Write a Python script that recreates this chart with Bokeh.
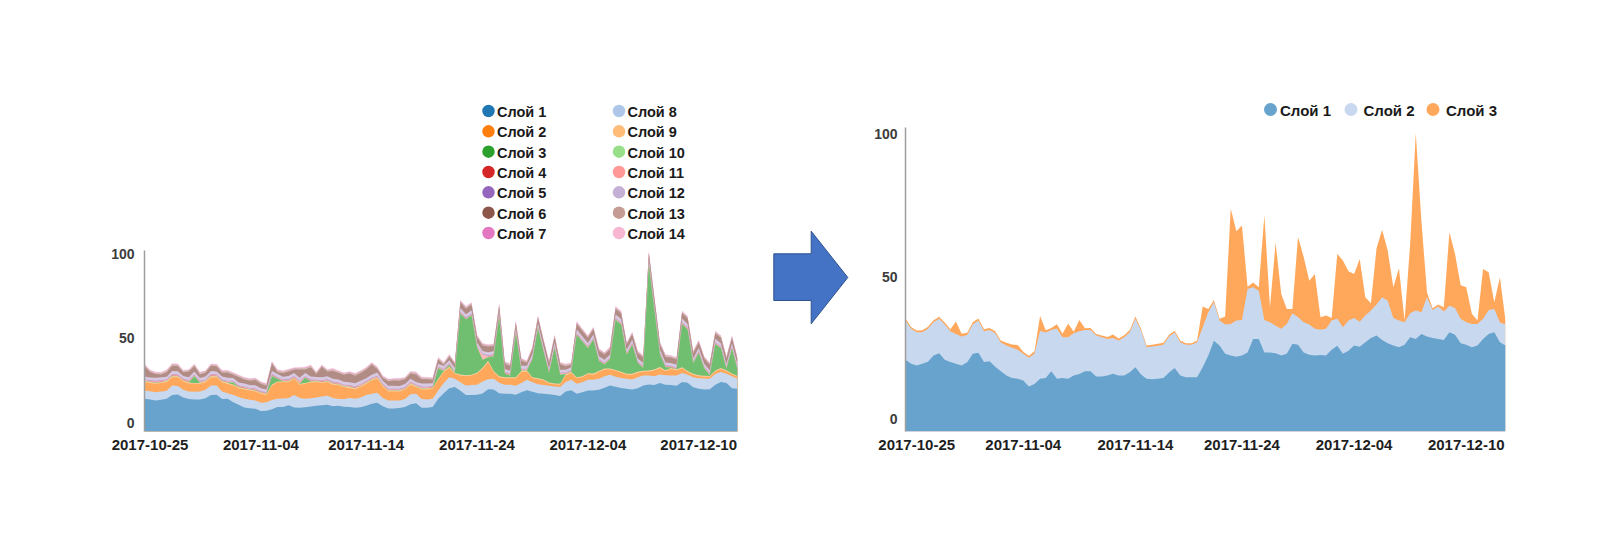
import numpy as np
from bokeh.plotting import figure
from bokeh.layouts import row
from bokeh.models import ColumnDataSource, FixedTicker, Range1d
from bokeh.core.properties import value
from bokeh.palettes import Category20_20
from bokeh.embed import file_html
from bokeh.resources import INLINE

# ---------------- data ----------------
TICK_LABELS = ["2017-10-25", "2017-11-04", "2017-11-14", "2017-11-24", "2017-12-04", "2017-12-10"]
LEFT_TICKS = [1, 21, 40, 60, 80, 100]
RIGHT_TICKS = [2, 21, 41, 60, 80, 100]
Y_TICKS = [0, 50, 100]

LEFT_NAMES = ["Слой 1", "Слой 2", "Слой 3", "Слой 4", "Слой 5", "Слой 6", "Слой 7",
              "Слой 8", "Слой 9", "Слой 10", "Слой 11", "Слой 12", "Слой 13", "Слой 14"]
RIGHT_NAMES = ["Слой 1", "Слой 2", "Слой 3"]

# left chart: 14 layers (bottom to top)
left_layer1 = [14.2, 13.8, 13.2, 13.6, 14.2, 16.5, 16.7, 15.0, 14.0, 13.8, 13.8, 14.5,
               16.5, 16.6, 14.0, 14.2, 12.2, 10.6, 9.0, 8.6, 8.3, 6.9, 7.1, 8.0,
               9.3, 9.3, 10.4, 9.0, 8.9, 9.1, 9.6, 10.0, 10.4, 10.6, 9.8, 10.0,
               9.5, 9.3, 8.9, 9.2, 10.0, 11.2, 11.8, 9.8, 8.5, 8.5, 8.7, 9.3,
               11.0, 11.5, 8.9, 8.9, 9.3, 14.2, 17.5, 20.5, 21.2, 19.0, 16.5, 16.5,
               16.6, 17.3, 19.8, 19.7, 17.5, 17.1, 17.1, 16.6, 18.0, 19.3, 18.3, 17.5,
               17.1, 16.8, 16.5, 15.8, 18.5, 19.3, 17.1, 18.1, 19.1, 19.1, 19.5, 20.7,
               22.1, 21.3, 20.6, 20.1, 19.7, 20.5, 22.0, 22.7, 22.4, 23.5, 22.5, 22.3,
               21.9, 24.2, 23.7, 21.0, 20.1, 19.7, 19.9, 22.5, 24.2, 23.5, 20.5, 20.1]
left_layer2 = [4.9, 4.8, 4.9, 4.9, 4.7, 5.5, 5.1, 4.5, 4.5, 4.5, 4.7, 5.0,
               5.5, 5.5, 4.5, 3.3, 4.3, 4.6, 5.2, 5.0, 4.9, 4.9, 5.1, 5.5,
               4.9, 5.0, 4.2, 7.5, 5.7, 5.1, 4.9, 5.0, 5.2, 5.4, 4.8, 4.0,
               4.5, 5.3, 5.3, 5.8, 6.5, 5.9, 5.9, 4.8, 4.7, 4.7, 4.5, 4.7,
               5.8, 5.6, 5.1, 4.9, 4.9, 4.9, 6.0, 6.5, 4.8, 5.0, 5.6, 5.8,
               5.9, 7.2, 6.0, 6.3, 6.2, 5.4, 5.4, 5.3, 5.5, 6.2, 5.7, 5.3,
               5.2, 5.1, 5.0, 5.3, 5.7, 6.1, 6.0, 5.9, 6.4, 6.3, 6.5, 6.8,
               6.3, 5.9, 5.9, 5.9, 5.9, 6.5, 6.0, 5.3, 5.1, 5.1, 5.7, 5.7,
               6.1, 5.3, 4.8, 6.0, 6.3, 6.5, 6.1, 6.3, 5.8, 5.5, 7.0, 5.9]
left_layer3 = [4.9, 4.9, 5.0, 5.0, 5.1, 5.0, 5.2, 5.0, 4.8, 4.8, 4.6, 4.5,
               5.0, 4.9, 5.5, 5.5, 5.6, 5.3, 5.5, 5.5, 5.3, 5.3, 4.3, 8.5,
               9.8, 9.7, 9.4, 9.5, 7.9, 8.9, 9.3, 9.0, 7.9, 8.0, 7.9, 8.2,
               7.0, 5.9, 5.7, 6.1, 6.5, 7.9, 8.3, 6.9, 5.3, 5.3, 5.3, 5.5,
               5.7, 3.9, 5.7, 5.9, 5.9, 6.4, 6.5, 5.5, 3.0, 4.0, 5.4, 5.7,
               6.5, 7.4, 10.1, 4.0, 3.3, 3.9, 3.9, 4.5, 6.5, 4.9, 2.4, 3.0,
               2.7, 1.4, 1.3, 1.4, 3.8, 4.0, 3.3, 3.0, 3.3, 3.1, 4.0, 4.0,
               3.1, 3.6, 3.1, 2.5, 2.9, 2.6, 2.2, 2.4, 3.4, 3.7, 2.3, 3.9,
               2.9, 2.8, 1.5, 1.5, 1.2, 1.0, 1.2, 1.5, 1.9, 1.5, 1.2, 1.2]
left_layer4 = [0.5, 0.6, 0.5, 0.5, 0.6, 0.6, 0.5, 0.5, 0.6, 0.5, 0.5, 0.6,
               0.6, 0.5, 0.5, 0.6, 0.5, 0.5, 0.6, 0.5, 0.5, 0.6, 0.5, 0.6,
               0.5, 0.5, 0.6, 0.5, 0.6, 0.5, 0.5, 0.6, 0.5, 0.5, 0.6, 0.5,
               0.5, 0.6, 0.5, 0.5, 0.6, 0.5, 0.6, 0.5, 0.5, 0.6, 0.5, 0.5,
               0.6, 0.5, 0.5, 0.6, 0.5, 0.6, 0.7, 0.6, 0.5, 0.6, 0.6, 0.5,
               0.6, 0.7, 0.8, 0.6, 0.5, 0.6, 0.5, 0.6, 0.7, 0.6, 0.5, 0.5,
               0.6, 0.5, 0.5, 0.6, 0.7, 0.6, 0.5, 0.6, 0.5, 0.6, 0.6, 0.7,
               0.6, 0.5, 0.6, 0.5, 0.5, 0.6, 0.6, 0.5, 0.6, 0.7, 0.6, 0.5,
               0.6, 0.5, 0.6, 0.5, 0.5, 0.6, 0.5, 0.6, 0.5, 0.6, 0.5, 0.5]
left_layer5 = [0, 0, 0, 0, 0, 0, 0, 0, 0, 4.0, 0, 0,
               0, 0, 0, 0, 1.2, 0, 0, 0, 0, 0, 0, 5.0,
               1.5, 0, 0, 0, 0, 3.0, 0, 0, 0, 0, 0, 0,
               0, 0, 0, 0, 0, 0, 0, 0, 0, 0, 0, 0,
               0, 0, 0, 0, 0, 6.0, 0, 1.0, 0, 36.0, 33.0, 35.0,
               15.0, 4.5, 2.0, 8.7, 35.0, 2.0, 1.0, 25.6, 0, 0, 10.6, 29.4,
               16.4, 5.6, 20.8, 5.4, 0, 0, 25.1, 20.6, 14.8, 20.1, 5.8, 2.3,
               5.5, 29.6, 27.9, 11.2, 17.1, 5.2, 1.6, 62.2, 35.1, 7.4, 1.7, 0.3,
               0, 25.6, 24.5, 6.3, 13.1, 4.4, 0.5, 15.6, 11.7, 0.8, 14.6, 3.8]
left_layer6 = [0.2, 0.2, 0.3, 0.2, 0.2, 0.3, 0.2, 0.2, 0.3, 0.2, 0.2, 0.2,
               0.3, 0.2, 0.2, 0.2, 0.3, 0.2, 0.2, 0.2, 0.3, 0.2, 0.2, 0.3,
               0.2, 0.2, 0.3, 0.2, 0.2, 0.2, 0.3, 0.2, 0.2, 0.3, 0.2, 0.2,
               0.2, 0.3, 0.2, 0.2, 0.2, 0.3, 0.2, 0.2, 0.3, 0.2, 0.2, 0.2,
               0.3, 0.2, 0.2, 0.2, 0.3, 0.2, 0.2, 0.3, 0.2, 0.3, 0.2, 0.3,
               0.2, 0.3, 0.2, 0.3, 0.2, 0.2, 0.3, 0.2, 0.2, 0.2, 0.3, 0.2,
               0.2, 0.2, 0.3, 0.2, 0.2, 0.3, 0.2, 0.2, 0.3, 0.2, 0.2, 0.3,
               0.2, 0.2, 0.3, 0.2, 0.2, 0.2, 0.3, 0.2, 0.2, 0.3, 0.2, 0.2,
               0.2, 0.3, 0.2, 0.2, 0.3, 0.2, 0.2, 0.3, 0.2, 0.2, 0.3, 0.2]
left_layer7 = [0.2, 0.1, 0.2, 0.2, 0.1, 0.2, 0.1, 0.2, 0.2, 0.1, 0.2, 0.1,
               0.2, 0.2, 0.1, 0.2, 0.1, 0.2, 0.2, 0.1, 0.2, 0.1, 0.2, 0.2,
               0.1, 0.2, 0.1, 0.2, 0.2, 0.1, 0.2, 0.1, 0.2, 0.2, 0.1, 0.2,
               0.1, 0.2, 0.2, 0.1, 0.2, 0.1, 0.2, 0.2, 0.1, 0.2, 0.1, 0.2,
               0.2, 0.1, 0.2, 0.1, 0.2, 0.2, 0.1, 0.2, 0.1, 0.2, 0.2, 0.1,
               0.2, 0.1, 0.2, 0.2, 0.1, 0.2, 0.1, 0.2, 0.2, 0.1, 0.2, 0.1,
               0.2, 0.2, 0.1, 0.2, 0.1, 0.2, 0.2, 0.1, 0.2, 0.1, 0.2, 0.2,
               0.1, 0.2, 0.1, 0.2, 0.2, 0.1, 0.2, 0.1, 0.2, 0.2, 0.1, 0.2,
               0.1, 0.2, 0.2, 0.1, 0.2, 0.1, 0.2, 0.2, 0.1, 0.2, 0.1, 0.2]
left_layer8 = [0.4, 0.4, 0.3, 0.4, 0.4, 0.5, 0.4, 0.3, 0.4, 0.4, 0.4, 0.3,
               0.4, 0.5, 0.4, 0.4, 0.3, 0.4, 0.4, 0.4, 0.5, 0.4, 0.3, 0.4,
               0.4, 0.4, 0.5, 0.4, 1.2, 0.4, 0.4, 0.3, 0.4, 0.4, 0.5, 0.4,
               0.4, 0.4, 0.3, 0.8, 0.4, 0.4, 0.5, 0.4, 0.4, 0.3, 0.4, 0.4,
               0.4, 0.5, 0.4, 0.4, 0.3, 0.4, 0.4, 0.4, 0.5, 0.4, 0.4, 0.3,
               0.4, 3.0, 0.5, 0.4, 0.4, 0.3, 0.4, 0.4, 0.5, 0.4, 0.4, 0.3,
               0.4, 0.4, 0.5, 0.4, 0.4, 0.3, 0.4, 0.4, 0.5, 0.4, 0.4, 0.3,
               0.4, 0.4, 0.5, 0.4, 0.4, 0.3, 0.4, 0.4, 0.5, 0.4, 0.4, 0.3,
               0.4, 0.4, 0.5, 0.4, 0.4, 0.3, 0.4, 0.4, 0.5, 0.4, 0.4, 0.3]
left_layer9 = [0.3, 0.3, 0.4, 0.3, 0.3, 0.3, 0.4, 0.3, 0.3, 0.3, 0.4, 0.3,
               0.3, 0.3, 0.4, 0.3, 0.3, 0.3, 0.4, 0.3, 0.3, 0.3, 0.4, 0.3,
               0.3, 0.3, 0.4, 0.3, 0.3, 0.3, 0.4, 0.3, 0.3, 0.3, 0.4, 0.3,
               0.3, 0.3, 0.4, 0.3, 0.3, 0.3, 0.4, 0.3, 0.3, 0.3, 0.4, 0.3,
               0.3, 0.3, 0.4, 0.3, 0.3, 0.3, 0.4, 0.3, 0.3, 0.3, 0.4, 0.3,
               0.3, 0.3, 0.4, 0.3, 0.3, 0.3, 0.4, 0.3, 0.3, 0.3, 0.4, 0.3,
               0.3, 0.3, 0.4, 0.3, 0.3, 0.3, 0.4, 0.3, 0.3, 0.3, 0.4, 0.3,
               0.3, 0.3, 0.4, 0.3, 0.3, 0.3, 0.4, 0.3, 0.3, 0.3, 0.4, 0.3,
               0.3, 0.3, 0.4, 0.3, 0.3, 0.3, 0.4, 0.3, 0.3, 0.3, 0.4, 0.3]
left_layer10 = [1.8, 1.7, 1.9, 1.8, 1.6, 1.8, 1.9, 1.7, 1.8, 1.8, 1.7, 1.9,
                1.8, 1.6, 1.8, 1.9, 1.7, 1.8, 1.8, 1.7, 1.9, 1.8, 1.6, 1.8,
                1.9, 1.7, 1.8, 1.8, 1.7, 1.9, 1.8, 1.6, 1.8, 1.9, 1.7, 1.8,
                1.8, 1.7, 1.9, 1.8, 1.6, 1.8, 1.9, 1.7, 1.8, 1.8, 1.7, 1.9,
                1.8, 1.6, 1.8, 1.9, 1.7, 1.8, 1.8, 1.7, 1.9, 2.2, 2.0, 2.1,
                1.9, 1.7, 1.8, 1.9, 2.1, 1.8, 1.7, 2.1, 1.8, 1.7, 1.9, 2.2,
                2.0, 1.8, 2.1, 1.8, 1.7, 1.8, 2.1, 2.0, 1.9, 2.1, 1.8, 1.7,
                1.8, 2.2, 2.1, 1.9, 2.0, 1.8, 1.7, 2.4, 2.2, 1.9, 1.8, 1.7,
                1.8, 2.1, 2.1, 1.8, 2.0, 1.8, 1.7, 2.0, 1.9, 1.8, 2.0, 1.8]
left_layer11 = [6.1, 3.2, 2.1, 1.7, 2.7, 3.1, 3.1, 2.2, 3.4, 3.0, 2.1, 2.2,
                3.1, 3.1, 2.2, 3.2, 1.9, 3.2, 2.3, 2.5, 3.1, 2.6, 2.2, 4.5,
                1.2, 2.2, 2.7, 2.1, 4.8, 2.1, 5.4, 1.7, 6.2, 2.7, 4.7, 4.0,
                4.1, 5.1, 4.5, 4.7, 5.2, 6.1, 2.1, 1.7, 2.7, 3.1, 3.1, 2.7,
                3.1, 4.4, 2.5, 2.5, 2.1, 2.5, 0.7, 2.2, 2.2, 3.4, 3.2, 3.3,
                3.1, 3.2, 3.3, 3.0, 3.4, 3.3, 2.8, 3.2, 3.1, 1.8, 3.0, 3.3,
                3.2, 3.1, 3.2, 3.2, 2.1, 1.5, 3.3, 3.1, 3.0, 3.2, 3.2, 3.1,
                3.2, 3.4, 3.3, 3.1, 3.2, 3.0, 3.2, 3.6, 3.4, 3.1, 3.2, 3.2,
                3.1, 3.3, 3.2, 3.0, 3.2, 3.1, 3.2, 3.3, 3.2, 3.2, 3.2, 3.1]
left_layer12 = [0.8, 0.8, 0.7, 0.8, 0.9, 0.8, 0.8, 0.7, 0.8, 0.9, 0.8, 0.8,
                0.7, 0.8, 0.9, 0.8, 0.8, 0.7, 0.8, 0.9, 0.8, 0.8, 0.7, 0.8,
                0.9, 0.8, 0.8, 0.7, 0.8, 0.9, 0.8, 0.8, 0.7, 0.8, 0.9, 0.8,
                0.8, 0.7, 0.8, 0.9, 0.8, 0.8, 0.7, 0.8, 0.9, 0.8, 0.8, 0.7,
                0.8, 0.9, 0.8, 0.8, 0.7, 0.8, 0.9, 0.8, 0.8, 0.7, 0.8, 0.9,
                0.8, 0.8, 0.7, 0.8, 0.9, 0.8, 0.8, 0.7, 0.8, 0.9, 0.8, 0.8,
                0.7, 0.8, 0.9, 0.8, 0.8, 0.7, 0.8, 0.9, 0.8, 0.8, 0.7, 0.8,
                0.9, 0.8, 0.8, 0.7, 0.8, 0.9, 0.8, 0.8, 0.7, 0.8, 0.9, 0.8,
                0.8, 0.7, 0.8, 0.9, 0.8, 0.8, 0.7, 0.8, 0.9, 0.8, 0.8, 0.7]
left_layer13 = [0.2, 0.2, 0.3, 0.2, 0.2, 0.2, 0.3, 0.2, 0.2, 0.2, 0.3, 0.2,
                0.2, 0.2, 0.3, 0.2, 0.2, 0.2, 0.3, 0.2, 0.2, 0.2, 0.3, 0.2,
                0.2, 0.2, 0.3, 0.2, 0.2, 0.2, 0.3, 0.2, 0.2, 0.2, 0.3, 0.2,
                0.2, 0.2, 0.3, 0.2, 0.2, 0.2, 0.3, 0.2, 0.2, 0.2, 0.3, 0.2,
                0.2, 0.2, 0.3, 0.2, 0.2, 0.2, 0.3, 0.2, 0.2, 0.2, 0.3, 0.2,
                0.2, 0.2, 0.3, 0.2, 0.2, 0.2, 0.3, 0.2, 0.2, 0.2, 0.3, 0.2,
                0.2, 0.2, 0.3, 0.2, 0.2, 0.2, 0.3, 0.2, 0.2, 0.2, 0.3, 0.2,
                0.2, 0.2, 0.3, 0.2, 0.2, 0.2, 0.3, 0.2, 0.2, 0.2, 0.3, 0.2,
                0.2, 0.2, 0.3, 0.2, 0.2, 0.2, 0.3, 0.2, 0.2, 0.2, 0.3, 0.2]
left_layer14 = [0.4, 0.5, 0.4, 0.4, 0.5, 0.4, 0.4, 0.5, 0.4, 0.4, 0.5, 0.4,
                0.4, 0.5, 0.4, 0.4, 0.5, 0.4, 0.4, 0.5, 0.4, 0.4, 0.5, 0.4,
                0.4, 0.5, 0.4, 0.4, 0.5, 0.4, 0.4, 0.5, 0.4, 0.4, 0.5, 0.4,
                0.4, 0.5, 0.4, 0.4, 0.5, 0.4, 0.4, 0.5, 0.4, 0.4, 0.5, 0.4,
                0.4, 0.5, 0.4, 0.4, 0.5, 0.4, 0.4, 0.5, 0.4, 0.4, 0.5, 0.4,
                0.4, 0.5, 0.4, 0.4, 0.5, 0.4, 0.4, 0.5, 0.4, 0.4, 0.5, 0.4,
                0.4, 0.5, 0.4, 0.4, 0.5, 0.4, 0.4, 0.5, 0.4, 0.4, 0.5, 0.4,
                0.4, 0.5, 0.4, 0.4, 0.5, 0.4, 0.4, 0.5, 0.4, 0.4, 0.5, 0.4,
                0.4, 0.5, 0.4, 0.4, 0.5, 0.4, 0.4, 0.5, 0.4, 0.4, 0.5, 0.4]

# right chart: 3 layers (bottom to top)
right_layer1 = [20.8, 19.4, 18.8, 19.4, 20.1, 22.3, 23.1, 20.8, 20.0, 19.4, 18.8, 19.9,
                22.9, 23.3, 20.0, 20.3, 18.4, 16.8, 15.3, 14.4, 14.1, 13.5, 11.4, 12.3,
                14.1, 14.4, 16.8, 14.1, 14.4, 14.1, 15.3, 15.8, 16.8, 16.8, 14.9, 14.9,
                15.3, 15.9, 15.3, 15.3, 16.4, 18.2, 15.6, 14.1, 14.0, 14.1, 14.4, 16.3,
                17.9, 15.3, 14.7, 14.7, 14.7, 18.2, 22.3, 27.5, 25.8, 22.9, 22.3, 21.9,
                22.3, 23.4, 28.1, 28.1, 23.4, 23.4, 23.1, 22.3, 22.9, 26.4, 26.1, 23.4,
                22.6, 22.3, 22.5, 22.3, 24.3, 25.7, 22.9, 24.0, 25.8, 25.4, 27.0, 28.5,
                29.3, 27.8, 26.6, 25.8, 25.2, 26.1, 28.7, 28.1, 29.9, 29.0, 28.5, 28.1,
                27.8, 30.5, 29.6, 26.6, 26.1, 25.2, 25.8, 28.1, 29.9, 30.5, 27.0, 25.8]
right_layer2 = [13.8, 12.3, 11.7, 11.1, 11.6, 11.7, 12.1, 12.4, 10.8, 10.5, 10.2, 9.6,
                10.3, 11.3, 10.8, 11.0, 11.7, 10.1, 10.5, 10.6, 10.2, 9.4, 10.1, 10.6,
                16.9, 16.0, 14.5, 17.7, 14.3, 14.6, 14.8, 15.0, 14.5, 14.5, 14.4, 13.8,
                12.8, 12.6, 12.3, 13.4, 14.1, 17.0, 15.5, 11.1, 11.5, 11.6, 11.7, 12.7,
                12.5, 11.7, 11.4, 11.4, 12.3, 14.0, 15.2, 13.5, 8.8, 10.3, 11.1, 12.7,
                12.5, 22.3, 18.2, 17.0, 11.4, 10.6, 9.7, 9.4, 10.5, 10.8, 9.7, 10.6,
                10.6, 9.4, 8.9, 9.4, 10.3, 9.5, 9.3, 10.6, 9.7, 8.8, 9.4, 9.6,
                10.9, 15.0, 15.0, 9.7, 9.4, 7.9, 8.5, 10.0, 7.6, 13.8, 9.8, 11.4,
                10.0, 9.3, 9.4, 8.6, 7.9, 8.2, 7.6, 7.1, 8.4, 8.2, 6.9, 7.4]
right_layer3 = [0.7, 0.6, 0.6, 0.7, 0.7, 0.7, 0.7, 0.7, 0.7, 4.4, 1.0, 0.8,
                0.8, 0.7, 0.7, 0.7, 0.7, 0.7, 1.0, 1.2, 1.7, 0.7, 0.7, 0.9,
                5.2, 0.8, 0.7, 1.5, 1.3, 4.9, 0.6, 4.0, 0.6, 0.7, 0.6, 0.6,
                0.7, 1.2, 0.7, 0.7, 0.8, 0.8, 0.6, 0.6, 0.6, 0.7, 0.7, 0.6,
                0.6, 0.6, 0.5, 0.5, 0.6, 7.3, 1.2, 0.8, 0.6, 2.8, 40.6, 31.4,
                33.2, 0.8, 1.7, 1.2, 36.7, 5.3, 29.2, 12.3, 5.3, 1.5, 28.2, 23.0,
                15.4, 19.3, 4.4, 4.7, 0.9, 22.8, 23.5, 17.3, 15.5, 22.0, 6.4, 2.6,
                19.8, 23.7, 17.5, 10.8, 18.4, 0.6, 24.4, 62.4, 32.2, 1.7, 0.6, 0.7,
                1.5, 25.8, 19.0, 11.8, 12.3, 3.6, 1.2, 17.5, 13.3, 2.3, 15.9, 1.4]

LEFT_LAYERS = [left_layer1, left_layer2, left_layer3, left_layer4, left_layer5, left_layer6,
               left_layer7, left_layer8, left_layer9, left_layer10, left_layer11,
               left_layer12, left_layer13, left_layer14]
RIGHT_LAYERS = [right_layer1, right_layer2, right_layer3]

# ---------------- style ----------------
FONT = "Liberation Sans"
AREA_ALPHA = 0.68
PAL = list(Category20_20)
LEFT_AREA_COLORS = PAL[:14]                     # areas: category20 natural order
LEFT_LEGEND_COLORS = PAL[0:14:2] + PAL[1:14:2]   # legend: dark colours first, then light
RIGHT_COLORS = [PAL[0], PAL[1], PAL[2]]

PAGE_H = 553
BORDER_TOP, BORDER_BOTTOM = 95, 122             # identical for all panels of the row
FRAME_TOP_PX = BORDER_TOP
FRAME_BOTTOM_PX = PAGE_H - BORDER_BOTTOM
FRAME_H = FRAME_BOTTOM_PX - FRAME_TOP_PX


def blend(hexc, a):
    h = hexc.lstrip("#")
    r, g, b = int(h[0:2], 16), int(h[2:4], 16), int(h[4:6], 16)
    return "#%02x%02x%02x" % (round(a * r + (1 - a) * 255), round(a * g + (1 - a) * 255),
                              round(a * b + (1 - a) * 255))


def make_chart(width, bl, br, x_end, y_range, y_axis_top, ticks, layers, names, colors,
               label_standoff_y):
    p = figure(width=width, height=PAGE_H, output_backend="svg", toolbar_location=None,
               x_range=Range1d(0, x_end), y_range=Range1d(*y_range),
               min_border_left=bl, min_border_right=br,
               min_border_top=BORDER_TOP, min_border_bottom=BORDER_BOTTOM)
    p.outline_line_color = None
    p.xgrid.visible = False
    p.ygrid.visible = False
    p.background_fill_color = "white"
    p.border_fill_color = "white"

    n = len(layers[0])
    data = {"x": np.arange(n)}
    cum = np.zeros(n)
    tops = []
    for name, vals in zip(names, layers):
        cum = cum + np.asarray(vals, dtype=float)
        key = "top_" + name
        data[key] = cum.copy()
        tops.append(key)
    data["base"] = np.full(n, y_range[0])
    src = ColumnDataSource(data)
    # paint from the top of the stack down so that bands meet without seams
    for key, c in reversed(list(zip(tops, colors))):
        p.varea(x="x", y1="base", y2=key, source=src, fill_color=blend(c, AREA_ALPHA))

    xa = p.xaxis[0]
    xa.ticker = FixedTicker(ticks=ticks)
    xa.major_label_overrides = {t: lab for t, lab in zip(ticks, TICK_LABELS)}
    xa.axis_line_color = None
    xa.major_tick_line_color = None
    xa.minor_tick_line_color = None
    xa.major_tick_out = 0
    xa.major_label_standoff = 8
    xa.major_label_text_font = FONT
    xa.major_label_text_font_style = "bold"
    xa.major_label_text_font_size = "15px"
    xa.major_label_text_color = "#1e1e1e"

    ya = p.yaxis[0]
    ya.ticker = FixedTicker(ticks=Y_TICKS)
    ya.bounds = (y_range[0], y_axis_top)
    ya.axis_line_color = "#9e9e9e"
    ya.axis_line_width = 1.5
    ya.major_tick_line_color = None
    ya.minor_tick_line_color = None
    ya.major_tick_out = 0
    ya.major_label_standoff = label_standoff_y
    ya.major_label_text_font = FONT
    ya.major_label_text_font_style = "bold"
    ya.major_label_text_font_size = "14px"
    ya.major_label_text_color = "#3c3c3c"
    return p


# ---------------- left chart ----------------
L_W = 770
L_BL, L_BR = 144, 33
L_YR = (-5.2, 193.9)
left = make_chart(L_W, L_BL, L_BR, 107, L_YR, 102, LEFT_TICKS, LEFT_LAYERS, LEFT_NAMES,
                  LEFT_AREA_COLORS, 10)
L_FRAME_W = L_W - L_BL - L_BR


def l_x(px):
    return (px - L_BL) / (L_FRAME_W / 107)


def l_y(py):
    return L_YR[0] + (FRAME_BOTTOM_PX - py) / (FRAME_H / (L_YR[1] - L_YR[0]))


LEG_ROWS_PX = [110.5, 130.8, 151.2, 171.5, 191.8, 212.2, 232.5]
LEG_COL_DOT_PX = [488, 618.5]
LEG_COL_TXT_PX = [496.5, 627]
dots_x, dots_y, txt_x, txt_y = [], [], [], []
for k in range(14):
    col, r = divmod(k, 7)
    dots_x.append(l_x(LEG_COL_DOT_PX[col]))
    dots_y.append(l_y(LEG_ROWS_PX[r]))
    txt_x.append(l_x(LEG_COL_TXT_PX[col]))
    txt_y.append(l_y(LEG_ROWS_PX[r] + 1))
left.scatter(x=dots_x, y=dots_y, size=12.5, marker="circle", fill_color=LEFT_LEGEND_COLORS,
             line_color=None)
left.text(x=txt_x, y=txt_y, text=LEFT_NAMES, text_font=value(FONT), text_font_style="bold",
          text_font_size="14.5px", text_baseline="middle", text_align="left",
          text_color="#1a1a1a")

# ---------------- arrow ----------------
A_X0, A_X1 = 770, 850
ARROW_X = [773.3, 810.7, 810.7, 847.3, 810.7, 810.7, 773.3]
ARROW_Y = [253.3, 253.3, 230.7, 277.0, 323.3, 300.0, 300.0]
arrow = figure(width=A_X1 - A_X0, height=PAGE_H, output_backend="svg", toolbar_location=None,
               x_range=Range1d(A_X0, A_X1), y_range=Range1d(FRAME_BOTTOM_PX, FRAME_TOP_PX),
               x_axis_type=None, y_axis_type=None,
               min_border_left=0, min_border_right=0,
               min_border_top=BORDER_TOP, min_border_bottom=BORDER_BOTTOM)
arrow.outline_line_color = None
arrow.xgrid.visible = False
arrow.ygrid.visible = False
arrow.patch(ARROW_X, ARROW_Y, fill_color="#4472c4", line_color="#2f528f", line_width=1)

# ---------------- right chart ----------------
R_W = 750
R_BL, R_BR = 55, 95
R_YR = (-4.4, 113.7)
right = make_chart(R_W, R_BL, R_BR, 107, R_YR, 102.3, RIGHT_TICKS, RIGHT_LAYERS, RIGHT_NAMES,
                   RIGHT_COLORS, 8)
R_X0 = L_W + (A_X1 - A_X0)
R_FRAME_W = R_W - R_BL - R_BR


def r_x(px):
    return (px - R_X0 - R_BL) / (R_FRAME_W / 107)


def r_y(py):
    return R_YR[0] + (FRAME_BOTTOM_PX - py) / (FRAME_H / (R_YR[1] - R_YR[0]))


R_LEG_DOT_PX = [1270, 1350.5, 1432.5]
R_LEG_TXT_PX = [1279.5, 1363, 1445.5]
R_LEG_Y_PX = 109
right.scatter(x=[r_x(v) for v in R_LEG_DOT_PX], y=[r_y(R_LEG_Y_PX)] * 3, size=13,
              marker="circle", fill_color=[blend(c, AREA_ALPHA) for c in RIGHT_COLORS],
              line_color=None)
right.text(x=[r_x(v) for v in R_LEG_TXT_PX], y=[r_y(R_LEG_Y_PX + 1)] * 3, text=RIGHT_NAMES,
           text_font=value(FONT), text_font_style="bold", text_font_size="15px",
           text_baseline="middle", text_align="left", text_color="#1a1a1a")

layout = row(left, arrow, right)
open("out.html", "w").write(file_html(layout, INLINE))
